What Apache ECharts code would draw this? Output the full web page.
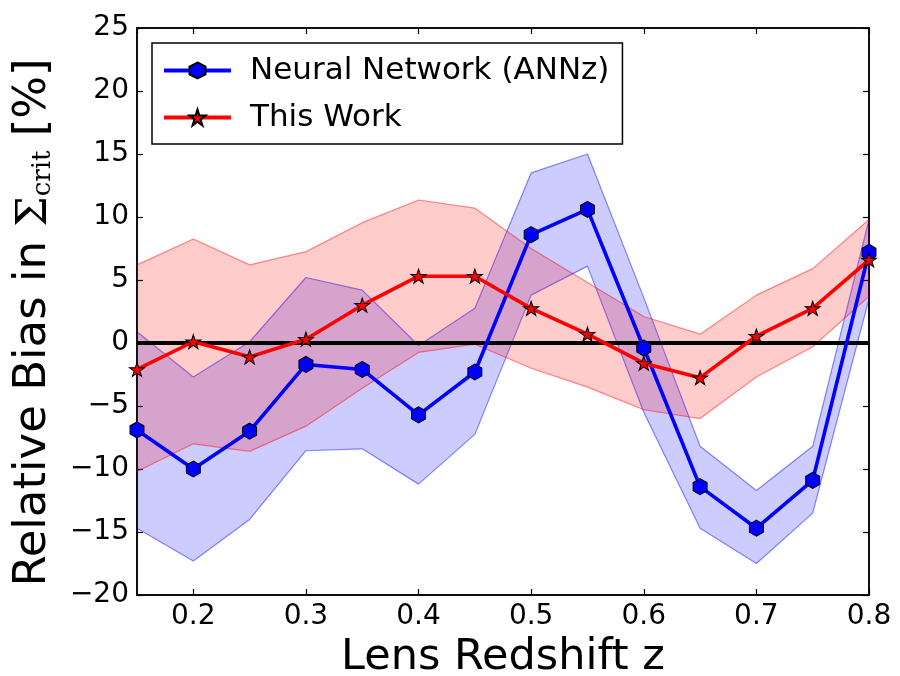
<!DOCTYPE html>
<html>
<head>
<meta charset="utf-8">
<script src="https://cdn.jsdelivr.net/npm/echarts@6/dist/echarts.min.js"></script>
<style>
html,body{margin:0;padding:0;background:#fff;}
#chart{width:900px;height:676px;}
</style>
</head>
<body>
<div id="chart"></div>
<script>
// ---- data ----
const redshift = [0.15, 0.2, 0.25, 0.3, 0.35, 0.4, 0.45, 0.5, 0.55, 0.6, 0.65, 0.7, 0.75, 0.8];
const annzMean  = [-6.9, -10.0, -7.0, -1.7, -2.1, -5.7, -2.3, 8.6, 10.6, -0.4, -11.4, -14.7, -10.9, 7.2];
const annzUpper = [0.9, -2.7, 0.1, 5.2, 4.2, -0.2, 2.75, 13.5, 15.0, 3.6, -8.2, -11.7, -8.2, 9.8];
const annzLower = [-14.7, -17.3, -14.0, -8.55, -8.4, -11.2, -7.25, 3.8, 6.1, -5.5, -14.7, -17.5, -13.5, 3.5];
const workMean  = [-2.1, 0.1, -1.1, 0.3, 3.0, 5.3, 5.3, 2.75, 0.7, -1.6, -2.75, 0.55, 2.75, 6.6];
const workUpper = [6.2, 8.25, 6.2, 7.25, 9.55, 11.35, 10.7, 7.5, 4.8, 2.1, 0.7, 3.8, 5.9, 9.8];
const workLower = [-10.2, -8.0, -8.6, -6.6, -3.6, -0.75, -0.1, -2.0, -3.5, -5.3, -6.0, -2.7, -0.3, 3.7];
const seriesNames = ['Neural Network (ANNz)', 'This Work'];
const xTitle = 'Lens Redshift z';

const pairs = (ys) => redshift.map((x, i) => [x, ys[i]]);
const HEX = 'path://M0,-1L0.866,-0.5L0.866,0.5L0,1L-0.866,0.5L-0.866,-0.5Z';
const STAR = 'path://M0,-1L0.2245,-0.309L0.951,-0.309L0.363,0.118L0.588,0.809L0,0.382L-0.588,0.809L-0.363,0.118L-0.951,-0.309L-0.2245,-0.309Z';

function band(upper, lower, fill, z) {
  return {
    type: 'custom', silent: true, z: z,
    data: [[redshift[0], upper[0]]],
    renderItem: function (params, api) {
      const pts = [];
      for (let i = 0; i < redshift.length; i++) pts.push(api.coord([redshift[i], upper[i]]));
      for (let i = redshift.length - 1; i >= 0; i--) pts.push(api.coord([redshift[i], lower[i]]));
      return { type: 'polygon', shape: { points: pts }, style: { fill: fill, stroke: null } };
    }
  };
}
function edge(ys, color, z) {
  return { type: 'line', data: pairs(ys), symbol: 'none', silent: true, z: z,
    lineStyle: { color: color, width: 1.2 } };
}

const font = 'DejaVu Sans';
const chart = echarts.init(document.getElementById('chart'));
const minus = v => String(v).replace('-', '\u2212');
const tickStyle = { inside: true, length: 6, lineStyle: { color: '#000', width: 1.2 } };
const lineAx = { onZero: false, lineStyle: { color: '#000', width: 1.5 } };

chart.setOption({
  animation: false,
  backgroundColor: '#fff',
  grid: { left: 137, right: 31, top: 28, bottom: 81, show: true, borderColor: '#000', borderWidth: 1.5,
    containLabel: false, outerBoundsMode: 'none' },
  legend: {
    data: seriesNames, orient: 'vertical', left: 152, top: 43,
    padding: [12, 13, 11, 10], itemGap: 16, itemWidth: 67, itemHeight: 20,
    borderColor: '#000', borderWidth: 1.5, backgroundColor: '#fff',
    lineStyle: { width: 4 },
    textStyle: { fontFamily: font, fontSize: 31, color: '#000', padding: [0, 0, 0, 14] }
  },
  xAxis: [{
    type: 'value', min: 0.15, max: 0.8, splitNumber: 6,
    axisLine: lineAx, axisTick: tickStyle, splitLine: { show: false },
    axisLabel: { showMinLabel: false, fontFamily: font, fontSize: 28, color: '#000', margin: 8,
      formatter: v => v.toFixed(1) },
    name: xTitle, nameLocation: 'middle', nameGap: 40,
    nameTextStyle: { fontFamily: font, fontSize: 43, color: '#000' }
  }, {
    type: 'value', min: 0.15, max: 0.8, splitNumber: 6, position: 'top',
    axisLine: lineAx, axisTick: tickStyle,
    axisLabel: { show: false }, splitLine: { show: false }
  }],
  yAxis: [{
    type: 'value', min: -20, max: 25, interval: 5,
    axisLine: Object.assign({ show: true }, lineAx), axisTick: Object.assign({ show: true }, tickStyle),
    splitLine: { show: false },
    axisLabel: { fontFamily: font, fontSize: 28, color: '#000', margin: 8, formatter: minus },
    name: '{a|Relative Bias in }{s|\u03A3}{b|crit}{a| [%]}',
    nameLocation: 'middle', nameRotate: 90, nameGap: 81,
    nameTextStyle: {
      color: '#000',
      padding: [0, 22, 0, 0],
      rich: {
        a: { fontFamily: font, fontSize: 45, color: '#000', verticalAlign: 'bottom', lineHeight: 52 },
        s: { fontFamily: 'DejaVu Serif', fontSize: 43, color: '#000', verticalAlign: 'bottom', lineHeight: 52 },
        b: { fontFamily: 'DejaVu Serif', fontSize: 26, color: '#000', verticalAlign: 'bottom', lineHeight: 36 }
      }
    }
  }, {
    type: 'value', min: -20, max: 25, interval: 5, position: 'right',
    axisLine: Object.assign({ show: true }, lineAx), axisTick: Object.assign({ show: true }, tickStyle),
    axisLabel: { show: false }, splitLine: { show: false }
  }],
  series: [
    band(annzUpper, annzLower, 'rgba(0,0,255,0.2)', 1),
    edge(annzUpper, 'rgba(0,0,255,0.45)', 2),
    edge(annzLower, 'rgba(0,0,255,0.45)', 2),
    band(workUpper, workLower, 'rgba(255,0,0,0.2)', 3),
    edge(workUpper, 'rgba(255,0,0,0.45)', 4),
    edge(workLower, 'rgba(255,0,0,0.45)', 4),
    {
      name: seriesNames[0], type: 'line', data: pairs(annzMean), z: 5,
      symbol: HEX, symbolSize: [14, 16], showAllSymbol: true,
      lineStyle: { color: '#0000ff', width: 3.6 },
      itemStyle: { color: '#0000ff', borderColor: '#000', borderWidth: 1 }
    },
    {
      name: seriesNames[1], type: 'line', data: pairs(workMean), z: 6,
      symbol: STAR, symbolSize: [15, 14], showAllSymbol: true,
      lineStyle: { color: '#ff0000', width: 3.6 },
      itemStyle: { color: '#ff0000', borderColor: '#000', borderWidth: 1 }
    },
    {
      type: 'line', data: [], z: 8, silent: true,
      markLine: { silent: true, symbol: 'none', label: { show: false },
        lineStyle: { color: '#000', width: 4, type: 'solid' },
        data: [{ yAxis: 0 }] }
    }
  ]
});
</script>
</body>
</html>
